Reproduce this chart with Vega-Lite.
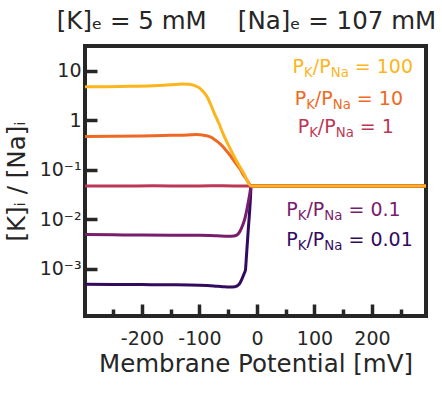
{
  "$schema": "https://vega.github.io/schema/vega-lite/v6.json",
  "width": 341,
  "height": 270,
  "autosize": {"type": "none"},
  "padding": {"left": 85, "top": 46, "right": 16, "bottom": 84},
  "title": {"text": "[K]ₑ = 5 mM\u00a0\u00a0\u00a0\u00a0[Na]ₑ = 107 mM", "orient": "top", "frame": "group", "anchor": "middle", "dx": -9, "dy": 26, "offset": 19, "baseline": "alphabetic", "fontSize": 24.5, "fontWeight": "normal", "color": "#262626", "font": "DejaVu Sans"},
  "config": {
    "font": "DejaVu Sans",
    "view": {"stroke": "#262626", "strokeWidth": 4},
    "axis": {"grid": false, "domain": false, "tickColor": "#262626", "tickWidth": 3.5, "labelColor": "#262626", "titleColor": "#262626", "labelFontSize": 19, "titleFontSize": 24.5, "titleFontWeight": "normal", "labelFont": "DejaVu Sans", "titleFont": "DejaVu Sans", "zindex": 1}
  },
  "datasets": {
    "curves": [
      {"s": "0.01", "V": -300, "r": 0.00048},
      {"s": "0.01", "V": -250, "r": 0.000478},
      {"s": "0.01", "V": -200, "r": 0.000474},
      {"s": "0.01", "V": -150, "r": 0.00047},
      {"s": "0.01", "V": -100, "r": 0.00046},
      {"s": "0.01", "V": -75, "r": 0.000445},
      {"s": "0.01", "V": -60, "r": 0.00043},
      {"s": "0.01", "V": -48, "r": 0.000422},
      {"s": "0.01", "V": -38, "r": 0.00043},
      {"s": "0.01", "V": -31, "r": 0.00048},
      {"s": "0.01", "V": -26, "r": 0.00062},
      {"s": "0.01", "V": -22, "r": 0.0008},
      {"s": "0.01", "V": -20, "r": 0.00093},
      {"s": "0.01", "V": -18.5, "r": 0.0016},
      {"s": "0.01", "V": -17, "r": 0.0029},
      {"s": "0.01", "V": -15, "r": 0.0063},
      {"s": "0.01", "V": -13, "r": 0.0128},
      {"s": "0.01", "V": -11.5, "r": 0.024},
      {"s": "0.01", "V": -10, "r": 0.0467},
      {"s": "0.01", "V": 300, "r": 0.0467},
      {"s": "0.1", "V": -300, "r": 0.00485},
      {"s": "0.1", "V": -250, "r": 0.0048},
      {"s": "0.1", "V": -200, "r": 0.00475},
      {"s": "0.1", "V": -150, "r": 0.00472},
      {"s": "0.1", "V": -100, "r": 0.0047},
      {"s": "0.1", "V": -70, "r": 0.0046},
      {"s": "0.1", "V": -50, "r": 0.0045},
      {"s": "0.1", "V": -40, "r": 0.00455},
      {"s": "0.1", "V": -34, "r": 0.0048},
      {"s": "0.1", "V": -29, "r": 0.0058},
      {"s": "0.1", "V": -25, "r": 0.0074},
      {"s": "0.1", "V": -21, "r": 0.0102},
      {"s": "0.1", "V": -18, "r": 0.0145},
      {"s": "0.1", "V": -15, "r": 0.022},
      {"s": "0.1", "V": -12.5, "r": 0.032},
      {"s": "0.1", "V": -10, "r": 0.0467},
      {"s": "0.1", "V": 300, "r": 0.0467},
      {"s": "1", "V": -300, "r": 0.0467},
      {"s": "1", "V": -240, "r": 0.0465},
      {"s": "1", "V": -180, "r": 0.0468},
      {"s": "1", "V": -120, "r": 0.0466},
      {"s": "1", "V": -80, "r": 0.0469},
      {"s": "1", "V": -40, "r": 0.0467},
      {"s": "1", "V": -10, "r": 0.0467},
      {"s": "1", "V": 300, "r": 0.0467},
      {"s": "10", "V": -300, "r": 0.465},
      {"s": "10", "V": -250, "r": 0.468},
      {"s": "10", "V": -200, "r": 0.475},
      {"s": "10", "V": -150, "r": 0.49},
      {"s": "10", "V": -120, "r": 0.5},
      {"s": "10", "V": -105, "r": 0.51},
      {"s": "10", "V": -95, "r": 0.5},
      {"s": "10", "V": -87, "r": 0.48},
      {"s": "10", "V": -80, "r": 0.45},
      {"s": "10", "V": -72, "r": 0.39},
      {"s": "10", "V": -64, "r": 0.33},
      {"s": "10", "V": -55, "r": 0.255},
      {"s": "10", "V": -46, "r": 0.19},
      {"s": "10", "V": -38, "r": 0.14},
      {"s": "10", "V": -29, "r": 0.1},
      {"s": "10", "V": -22, "r": 0.073},
      {"s": "10", "V": -16, "r": 0.058},
      {"s": "10", "V": -10, "r": 0.0467},
      {"s": "10", "V": 300, "r": 0.0467},
      {"s": "100", "V": -300, "r": 4.7},
      {"s": "100", "V": -260, "r": 4.72},
      {"s": "100", "V": -220, "r": 4.8},
      {"s": "100", "V": -180, "r": 4.95},
      {"s": "100", "V": -150, "r": 5.15},
      {"s": "100", "V": -130, "r": 5.35},
      {"s": "100", "V": -118, "r": 5.3},
      {"s": "100", "V": -108, "r": 4.95},
      {"s": "100", "V": -100, "r": 4.45},
      {"s": "100", "V": -94, "r": 3.8},
      {"s": "100", "V": -87, "r": 3.0},
      {"s": "100", "V": -81, "r": 2.15},
      {"s": "100", "V": -75, "r": 1.45},
      {"s": "100", "V": -66, "r": 0.85},
      {"s": "100", "V": -58, "r": 0.5},
      {"s": "100", "V": -47, "r": 0.27},
      {"s": "100", "V": -35, "r": 0.145},
      {"s": "100", "V": -22, "r": 0.08},
      {"s": "100", "V": -10, "r": 0.0467},
      {"s": "100", "V": 300, "r": 0.0467}
    ],
    "labels": [
      {"s": "100", "V": 62, "r": 8.8, "eq": "= 100"},
      {"s": "10", "V": 65.6, "r": 1.99, "eq": "= 10"},
      {"s": "1", "V": 70.8, "r": 0.547, "eq": "= 1"},
      {"s": "0.1", "V": 51, "r": 0.01127, "eq": "= 0.1"},
      {"s": "0.01", "V": 51, "r": 0.00292, "eq": "= 0.01"}
    ]
  },
  "resolve": {"axis": {"x": "independent"}},
  "layer": [
    {
      "data": {"name": "curves"},
      "mark": {"type": "line", "strokeWidth": 3, "interpolate": "monotone", "clip": true},
      "encoding": {
        "x": {"field": "V", "type": "quantitative", "scale": {"domain": [-299, 294], "nice": false, "zero": false}, "axis": {"orient": "bottom", "values": [-200, -100, 0, 100, 200], "tickSize": -12, "labelPadding": 25, "labelExpr": "replace(datum.label, '−', '-')", "title": "Membrane Potential [mV]", "titlePadding": 4}},
        "y": {"field": "r", "type": "quantitative", "scale": {"type": "log", "domain": [0.00011, 31.3], "nice": false}, "axis": {"orient": "left", "values": [0.001, 0.01, 0.1, 1, 10], "tickSize": -12, "labelPadding": 16, "labelExpr": "datum.value > 5 ? '10' : datum.value > 0.5 ? '1' : datum.value > 0.05 ? '10⁻¹' : datum.value > 0.005 ? '10⁻²' : '10⁻³'", "title": "[K]ᵢ / [Na]ᵢ", "titlePadding": 10}},
        "color": {"field": "s", "type": "nominal", "scale": {"domain": ["0.01", "0.1", "1", "10", "100"], "range": ["#320a5e", "#781c6d", "#bc3754", "#ed6925", "#fcb51d"]}, "legend": null}
      }
    },
    {
      "data": {"name": "labels"},
      "mark": {"type": "text", "text": "P", "align": "left", "baseline": "alphabetic", "fontSize": 19},
      "encoding": {
        "x": {"field": "V", "type": "quantitative", "axis": {"orient": "bottom", "values": [-250, -150, -50, 50, 150, 250], "tickSize": -7, "labels": false, "title": null}},
        "y": {"field": "r", "type": "quantitative"},
        "color": {"field": "s", "type": "nominal", "legend": null}
      }
    },
    {
      "data": {"name": "labels"},
      "mark": {"type": "text", "text": "K", "align": "left", "baseline": "alphabetic", "fontSize": 13.3, "dx": 11.5, "dy": 4},
      "encoding": {
        "x": {"field": "V", "type": "quantitative", "axis": null},
        "y": {"field": "r", "type": "quantitative"},
        "color": {"field": "s", "type": "nominal", "legend": null}
      }
    },
    {
      "data": {"name": "labels"},
      "mark": {"type": "text", "text": "/P", "align": "left", "baseline": "alphabetic", "fontSize": 19, "dx": 20.2},
      "encoding": {
        "x": {"field": "V", "type": "quantitative", "axis": null},
        "y": {"field": "r", "type": "quantitative"},
        "color": {"field": "s", "type": "nominal", "legend": null}
      }
    },
    {
      "data": {"name": "labels"},
      "mark": {"type": "text", "text": "Na", "align": "left", "baseline": "alphabetic", "fontSize": 13.3, "dx": 38.1, "dy": 4},
      "encoding": {
        "x": {"field": "V", "type": "quantitative", "axis": null},
        "y": {"field": "r", "type": "quantitative"},
        "color": {"field": "s", "type": "nominal", "legend": null}
      }
    },
    {
      "data": {"name": "labels"},
      "mark": {"type": "text", "align": "left", "baseline": "alphabetic", "fontSize": 19, "dx": 62.2},
      "encoding": {
        "x": {"field": "V", "type": "quantitative", "axis": null},
        "y": {"field": "r", "type": "quantitative"},
        "text": {"field": "eq", "type": "nominal"},
        "color": {"field": "s", "type": "nominal", "legend": null}
      }
    }
  ]
}
